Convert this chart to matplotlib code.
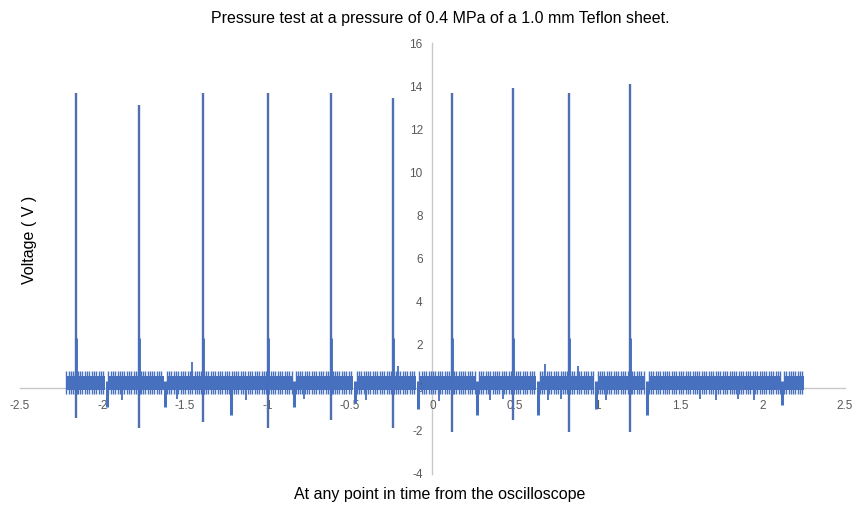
import numpy as np
import matplotlib
matplotlib.use("Agg")
import matplotlib.pyplot as plt

plt.rcParams['font.family'] = ['Liberation Sans', 'DejaVu Sans']

# --- data ---
spike_x = [-2.158, -1.78, -1.388, -0.994, -0.618, -0.242, 0.121, 0.485, 0.83, 1.194]
spike_high = [13.7, 13.1, 13.7, 13.7, 13.7, 13.45, 13.7, 13.9, 13.7, 14.1]
spike_low = [-1.4, -1.85, -1.6, -1.85, -1.5, -1.85, -2.05, -1.5, -2.05, -2.05]
spike_shoulder = [2.3, 2.3, 2.3, 2.3, 2.3, 2.3, 2.3, 2.3, 2.3, 2.3]

dip_x = [-1.975, -1.62, -1.22, -0.84, -0.47, -0.09, 0.27, 0.64, 0.99, 1.30, 2.12]
dip_low = [-0.9, -0.9, -1.25, -0.9, -0.7, -1.0, -1.25, -1.25, -1.0, -1.25, -0.8]

small_dip_x = [-1.88, -1.55, -1.13, -0.78, -0.40, 0.04, 0.35, 0.43, 0.70, 0.78, 1.05, 1.62, 1.72, 1.85, 1.95]
small_dip_low = [-0.55, -0.5, -0.55, -0.5, -0.55, -0.6, -0.55, -0.5, -0.55, -0.5, -0.55, -0.5, -0.55, -0.5, -0.55]

small_bump_x = [-1.46, -0.21, 0.68, 0.88]
small_bump_high = [1.2, 1.0, 1.1, 1.0]

band_start = [-2.22, -1.965, -1.61, -0.83, -0.46, -0.08, 0.28, 0.65, 1.00, 1.31, 2.13]
band_end = [-1.985, -1.63, -0.85, -0.48, -0.10, 0.26, 0.63, 0.98, 1.29, 2.11, 2.25]
band_low = -0.28
band_body_low = -0.12
band_body_high = 0.55
band_high = 0.8

x_ticks = [-2.5, -2, -1.5, -1, -0.5, 0, 0.5, 1, 1.5, 2, 2.5]
x_tick_labels = ['-2.5', '-2', '-1.5', '-1', '-0.5', '0', '0.5', '1', '1.5', '2', '2.5']
y_ticks = [-4, -2, 0, 2, 4, 6, 8, 10, 12, 14, 16]

title = "Pressure test at a pressure of 0.4 MPa of a 1.0 mm Teflon sheet."
xlabel = "At any point in time from the oscilloscope"
ylabel = "Voltage ( V )"

color = '#4770BF'
spike_color = '#4F6FAE'

fig = plt.figure(figsize=(8.54, 5.08), dpi=100)
ax = fig.add_axes([20/854, 1 - 474/508, 825/854, (474 - 43)/508])

# noise band
for s, e in zip(band_start, band_end):
    ax.fill_between([s, e], [band_body_low, band_body_low], [band_body_high, band_body_high],
                    color=color, lw=0)
    teeth = np.arange(s, e, 0.014)
    ax.vlines(teeth, band_low, band_high, color=color, lw=1.0)

# dips and bumps
ax.vlines(dip_x, dip_low, 0.3, color=color, lw=2.2)
ax.vlines(small_dip_x, small_dip_low, 0.3, color=color, lw=1.3)
ax.vlines(small_bump_x, 0.3, small_bump_high, color=color, lw=1.3)

# spikes
ax.vlines(spike_x, spike_low, spike_high, color=spike_color, lw=1.7)
ax.vlines(spike_x, -0.3, spike_shoulder, color=color, lw=2.1)

ax.set_xlim(-2.5, 2.5)
ax.set_ylim(-4, 16)
ax.set_xticks(x_ticks)
ax.set_xticklabels(x_tick_labels)
ax.set_yticks(y_ticks)
ax.set_yticklabels([str(v) for v in y_ticks])

for side in ['top', 'right']:
    ax.spines[side].set_visible(False)
ax.spines['left'].set_position(('data', 0))
ax.spines['bottom'].set_position(('data', 0))
for side in ['left', 'bottom']:
    ax.spines[side].set_color('#C8C8C8')
    ax.spines[side].set_linewidth(1.0)
    ax.spines[side].set_zorder(0.5)

ax.tick_params(axis='both', length=0, labelsize=8.5, labelcolor='#595959')
ax.tick_params(axis='x', pad=9)
ax.tick_params(axis='y', pad=7)
ax.patch.set_alpha(0)

fig.text(440/854, 1 - 18/508, title, ha='center', va='center', fontsize=11.5, color='#000000')
fig.text(440/854, 1 - 495/508, xlabel, ha='center', va='center', fontsize=11.5, color='#000000')
fig.text(30/854, 1 - 240/508, ylabel, ha='center', va='center', rotation=90, fontsize=11.5, color='#000000')

fig.savefig('out.png', dpi=100)
